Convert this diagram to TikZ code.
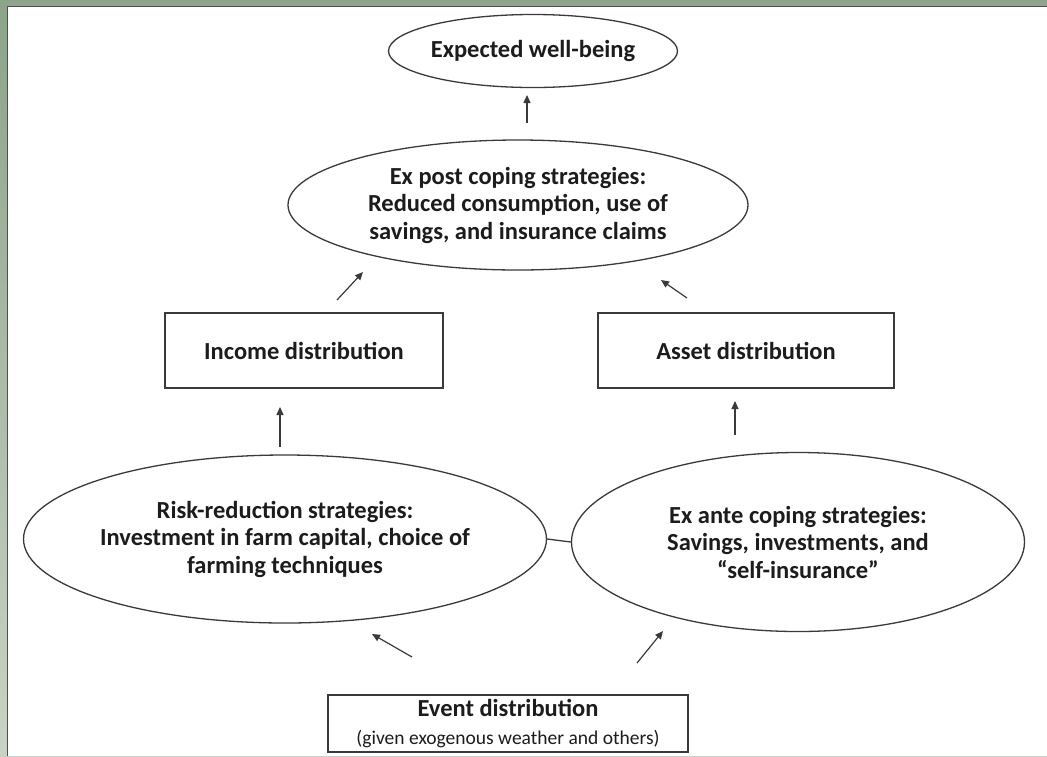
\documentclass[tikz,border=0pt]{standalone}
\usepackage{fontspec}
\setmainfont{Carlito}
\usetikzlibrary{shapes.geometric,arrows.meta}
\definecolor{greenT}{HTML}{8DA38A}
\definecolor{greenB}{HTML}{C9D3C5}
\definecolor{edgec}{HTML}{505050}
\definecolor{linec}{HTML}{3A3A3A}
\definecolor{textc}{HTML}{1C1C1C}
\tikzset{
  shp/.style={draw=linec, line width=1.3pt, fill=white, inner sep=0pt, align=center,
    text=textc, font=\fontsize{24.5}{27.5}\selectfont\bfseries},
  ell/.style={shp, ellipse},
  boxn/.style={shp, rectangle},
  arr/.style={draw=linec, line width=1.2pt, -{Triangle[length=8pt,width=7pt]}},
  link/.style={draw=linec, line width=1.3pt}
}
\begin{document}
\begin{tikzpicture}[x=1pt,y=-1pt]
\useasboundingbox (0,0) rectangle (1047,756);
\fill[top color=greenT, bottom color=greenB] (0,0) rectangle (1047,756);
\fill[white] (7,6) rectangle (1047,756);
\draw[edgec, line width=1.5pt] (7.7,756) -- (7.7,6.7) -- (1047,6.7);

\node[ell, minimum width=260pt, minimum height=73pt] (well) at (533,51) {Expected well-being};
\node[ell, minimum width=460pt, minimum height=130pt] (expost) at (518,205)
  {Ex post coping strategies:\\Reduced consumption, use of\\savings, and insurance claims};
\node[boxn, minimum width=278pt, minimum height=75pt] (income) at (304,350.5) {Income distribution};
\node[boxn, minimum width=296pt, minimum height=75pt] (asset) at (746,350.5) {Asset distribution};
\node[ell, minimum width=495pt, minimum height=168pt] (risk) at (285,539)
  {Risk-reduction strategies:\\Investment in farm capital, choice of\\farming techniques};
\node[ell, minimum width=453pt, minimum height=179pt] (ante) at (798,542)
  {Ex ante coping strategies:\\Savings, investments, and\\“self-insurance”};
\node[boxn, minimum width=360pt, minimum height=57pt] (event) at (508,723.5)
  {Event distribution\\{\fontsize{19.5}{22}\selectfont\mdseries(given exogenous weather and others)}};

\draw[link] (risk.east) -- (ante.west);

\coordinate (w1) at (527,123); \coordinate (w2) at (527,95);
\coordinate (i1) at (337,300); \coordinate (i2) at (363,272);
\coordinate (s1) at (687,298); \coordinate (s2) at (661,280);
\coordinate (r1) at (280,447); \coordinate (r2) at (280,407);
\coordinate (e1) at (735,435); \coordinate (e2) at (735,401);
\coordinate (v1) at (412,657); \coordinate (v2) at (372,634);
\coordinate (v3) at (637,663); \coordinate (v4) at (663,631);

\draw[arr] (w1) -- (w2);
\draw[arr] (i1) -- (i2);
\draw[arr] (s1) -- (s2);
\draw[arr] (r1) -- (r2);
\draw[arr] (e1) -- (e2);
\draw[arr] (v1) -- (v2);
\draw[arr] (v3) -- (v4);
\end{tikzpicture}
\end{document}
